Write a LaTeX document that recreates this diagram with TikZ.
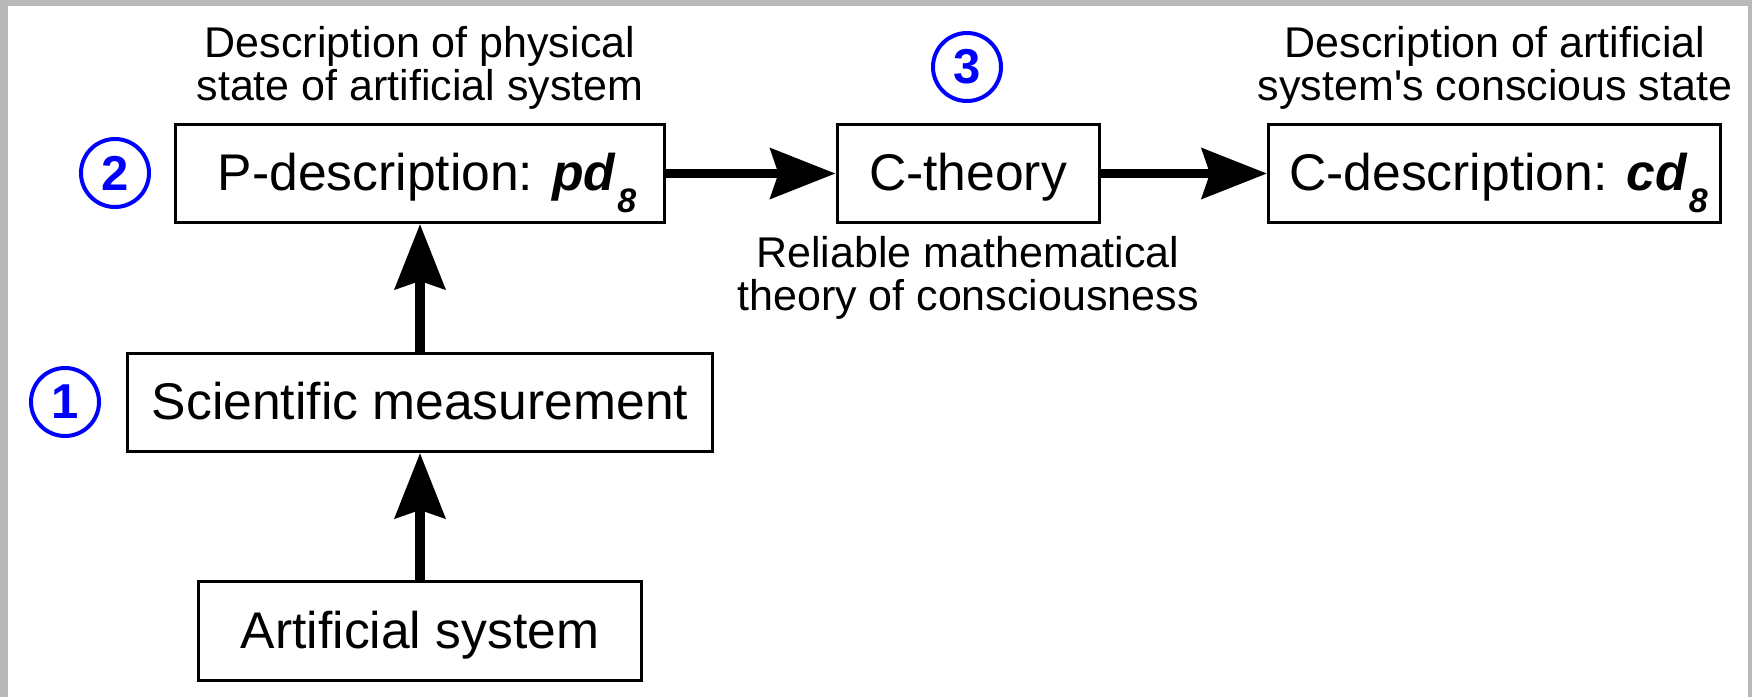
\documentclass[tikz,border=0pt]{standalone}
\usepackage{fontspec}
\setmainfont{Liberation Sans}
\usetikzlibrary{arrows.meta}
\definecolor{framegray}{RGB}{185,185,188}
\definecolor{numblue}{RGB}{0,0,255}
\newcommand{\subeight}{\kern0.5pt\raisebox{-11pt}{\fontsize{17pt}{17pt}\selectfont\bfseries\itshape 8}}
\begin{document}
\begin{tikzpicture}[x=0.5pt,y=-0.5pt,
  box/.style={draw=black, line width=1.5pt, inner sep=0pt, minimum height=49pt,
    text height=17pt, text depth=0pt, font=\fontsize{25.8pt}{25.8pt}\selectfont},
  lbl/.style={align=center, inner sep=0pt, anchor=north,
    font=\fontsize{21.5pt}{21.5pt}\selectfont},
  num/.style={circle, draw=numblue, line width=2pt, minimum size=34pt, inner sep=0pt,
    text=numblue, font=\fontsize{24.5pt}{24.5pt}\selectfont\bfseries},
  flow/.style={line width=4.75pt, -{Stealth[length=32.5pt,width=25pt,inset=4pt]}}
]
% frame
\fill[framegray] (0,0) rectangle (1752,697);
\fill[white] (8,6) rectangle (1748,697);
\useasboundingbox (0,0) rectangle (1752,697);

% boxes
\node[box, minimum width=244.5pt] (P) at (420,173.5) {\hspace*{7pt}P-description: \textbf{\textit{pd}}\subeight};
\node[box, minimum width=131pt] (CT) at (968,173.5) {C-theory};
\node[box, minimum width=226pt] (CD) at (1494.5,173.5) {\hspace*{4pt}C-description: \textbf{\textit{cd}}\subeight};
\node[box, minimum width=292.5pt] (SM) at (420,402.5) {Scientific measurement};
\node[box, minimum width=221.5pt, minimum height=49.5pt] (AS) at (420,631) {Artificial system};

% labels
\node[lbl] (PL) at (420,26) {Description of physical\\state of artificial system};
\node[lbl] (CDL) at (1495,26) {Description of artificial\\system\textquotesingle s conscious state};
\node[lbl] (CTL) at (968,236) {Reliable mathematical\\theory of consciousness};

% numbers
\node[num] (n1) at (65,402) {1};
\node[num] (n2) at (115,173) {2};
\node[num] (n3) at (967,67) {3};

% connectors
\draw[flow] (AS.north) -- (SM.south);
\draw[flow] (SM.north) -- (P.south);
\draw[flow] (P.east) -- (CT.west);
\draw[flow] (CT.east) -- (CD.west);
\end{tikzpicture}
\end{document}
